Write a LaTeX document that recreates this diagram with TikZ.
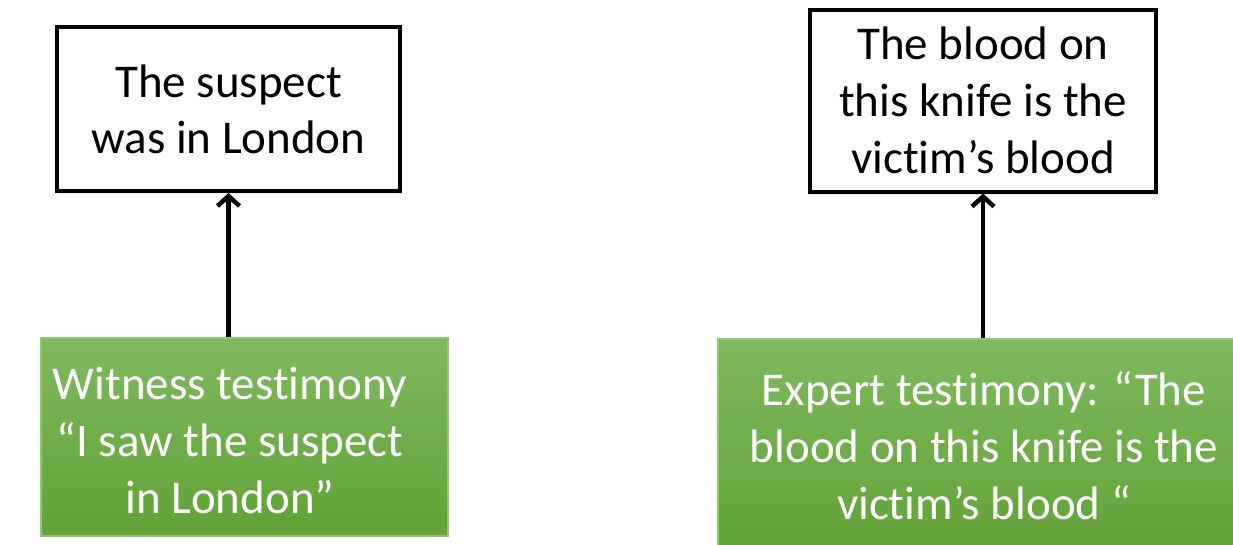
\documentclass[tikz,border=0pt]{standalone}
\usepackage{fontspec}
\setmainfont[Ligatures={NoCommon}]{Carlito}
\usetikzlibrary{arrows.meta,shadows}
\definecolor{grtop}{HTML}{7FB95F}
\definecolor{grbot}{HTML}{62A236}
\definecolor{grline}{HTML}{8FC86F}
\tikzset{
  claim/.style={draw=black, line width=4pt, fill=white, inner sep=0pt,
    align=center, font=\fontsize{47}{56}\selectfont,
    drop shadow={opacity=0.18, shadow xshift=2pt, shadow yshift=-3pt}},
  evidence/.style={draw=grline, line width=2pt, top color=grtop, bottom color=grbot,
    inner sep=0pt},
  evtext/.style={align=center, text=white, inner sep=0pt,
    font=\fontsize{47}{57}\selectfont},
  support/.style={line width=4.5pt, -{Straight Barb[length=10pt,width=22pt]}}
}
\begin{document}
\begin{tikzpicture}[x=1pt,y=-1pt]
  \useasboundingbox (0,0) rectangle (1233,544);
  \clip (0,0) rectangle (1233,544);
  % claims
  \node[claim, minimum width=343pt, minimum height=164pt] (sus) at (228.5,109)
    {The suspect\\was in London};
  \node[claim, minimum width=346pt, minimum height=182pt,
        font=\fontsize{47}{57}\selectfont] (blood) at (983,100.5)
    {The blood on\\this knife is the\\victim’s blood};
  % evidence boxes
  \node[evidence, minimum width=407pt, minimum height=198pt] (wit) at (244.5,437) {};
  \node[evidence, minimum width=531pt, minimum height=216pt] (exp) at (983.5,447) {};
  % evidence texts
  \node[evtext] (witt) at (230,440)
    {Witness testimony\\“I saw the suspect\\in London”};
  \node[evtext] (expt) at (984,446)
    {Expert testimony: “The\\blood on this knife is the\\victim’s blood “};
  % support links
  \draw[support] (sus.south |- wit.north) -- (sus.south);
  \draw[support] (blood.south |- exp.north) -- (blood.south);
\end{tikzpicture}
\end{document}
